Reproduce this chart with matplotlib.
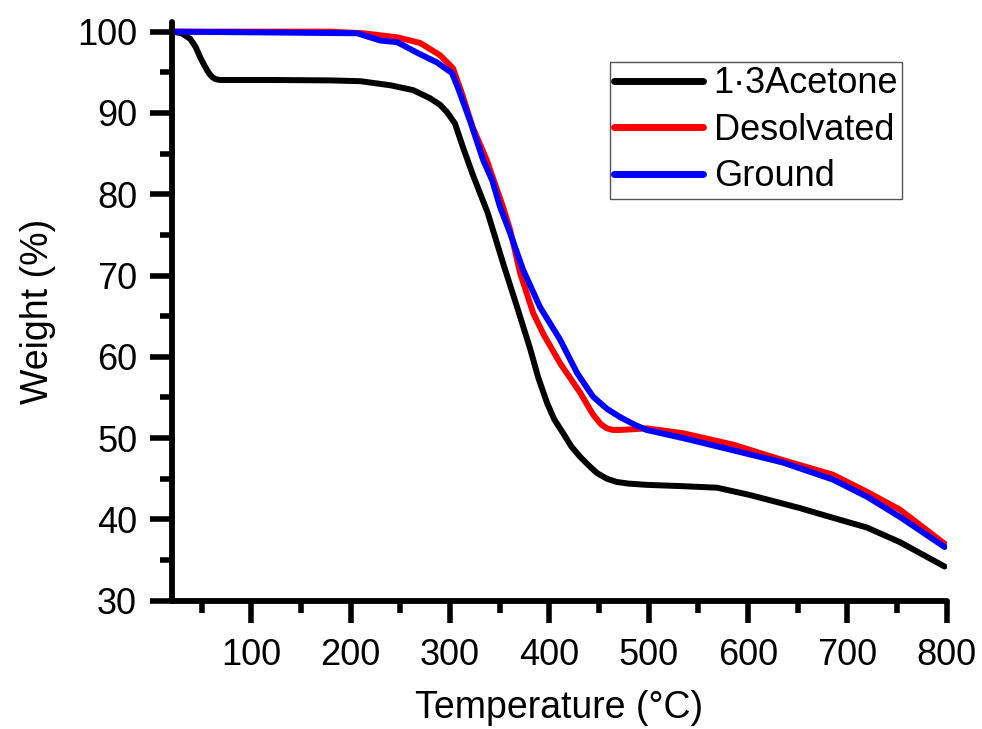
import numpy as np
import matplotlib
matplotlib.use("Agg")
import matplotlib.pyplot as plt

plt.rcParams['font.family'] = ['Liberation Sans', 'DejaVu Sans']

# TGA curves: temperature (C) and weight (%)
t_acetone = [20, 30, 38.6, 44, 48.7, 52.5, 55.7, 58.5, 60.8, 64, 68.8, 75, 120, 180, 210,
             240, 263, 280, 290, 297, 305, 313, 323, 338, 353.5, 367.6, 380.7, 388.7,
             397.8, 405, 413.9, 422, 431, 440, 448, 458, 468, 480, 498, 531.6, 568.8, 602,
             652, 685.5, 719.7, 753, 780, 798]
w_acetone = [100, 99.8, 99.1, 98.1, 96.8, 95.9, 95.2, 94.7, 94.4, 94.15, 94.05, 94.05, 94.05,
             94.0, 93.9, 93.4, 92.8, 91.8, 91.0, 90.1, 88.7, 85.8, 82.4, 77.7, 71.5, 66.1,
             61.0, 57.5, 54.3, 52.3, 50.6, 49.0, 47.7, 46.6, 45.7, 45.0, 44.6, 44.4, 44.25,
             44.1, 43.9, 43.0, 41.4, 40.2, 39.0, 37.2, 35.4, 34.2]

t_desolv = [20, 180, 212.7, 247, 270, 290, 303, 312, 323, 337, 353.5, 360.6, 370.6, 383.7,
            394, 410.9, 431, 444, 452, 458, 464, 471, 485, 498.4, 534.6, 585, 635, 685.5,
            719.7, 753, 798]
w_desolv = [100, 100, 99.8, 99.3, 98.6, 97.1, 95.5, 92.4, 88.2, 84.2, 78.4, 75.6, 70.3,
            65.4, 62.8, 59.2, 55.6, 52.9, 51.7, 51.2, 51.0, 51.0, 51.1, 51.2, 50.6, 49.2,
            47.3, 45.5, 43.4, 41.2, 37.0]

t_ground = [20, 206.6, 229.8, 247, 267, 287, 302, 308, 320, 333.4, 342.5, 350.5, 360.6,
            373.6, 390.7, 410.9, 428, 444, 458, 471, 485, 498, 534.6, 585, 635, 685.5,
            719.7, 753, 798]
w_ground = [100, 99.8, 98.9, 98.7, 97.4, 96.2, 94.9, 93.1, 89.1, 84.2, 81.7, 78.4, 75.2,
            70.7, 66.1, 62.1, 58.0, 55.1, 53.6, 52.6, 51.7, 51.0, 50.0, 48.5, 47.0, 44.9,
            42.8, 40.3, 36.6]

fig = plt.figure(figsize=(9.82, 7.29), dpi=100)
ax = fig.add_axes([0.175, 0.176, 0.789, 0.794])

ax.plot(t_acetone, w_acetone, color='black', lw=4.3, label='1·3Acetone', solid_capstyle='round')
ax.plot(t_desolv, w_desolv, color='red', lw=4.3, label='Desolvated', solid_capstyle='round')
ax.plot(t_ground, w_ground, color='blue', lw=4.3, label='Ground', solid_capstyle='round')

ax.set_xlim(20, 800)
ax.set_ylim(30, 101.2)
ax.set_xticks([100, 200, 300, 400, 500, 600, 700, 800])
ax.set_xticks([50, 150, 250, 350, 450, 550, 650, 750], minor=True)
ax.set_yticks([30, 40, 50, 60, 70, 80, 90, 100])
ax.set_yticks([35, 45, 55, 65, 75, 85, 95], minor=True)

for s in ['top', 'right']:
    ax.spines[s].set_visible(False)
for s in ['left', 'bottom']:
    ax.spines[s].set_linewidth(4.2)
    ax.spines[s].set_capstyle('round')

ax.tick_params(which='major', direction='out', length=16, width=4, labelsize=26, pad=9)
ax.tick_params(which='minor', direction='out', length=8.6, width=4)
ax.tick_params(axis='x', which='major', pad=11)

ax.set_xlabel('Temperature (°C)', fontsize=27, labelpad=12)
ax.set_ylabel('Weight (%)', fontsize=27, labelpad=15)

leg = ax.legend(loc='upper right', bbox_to_anchor=(0.943, 0.931), borderaxespad=0,
                fontsize=26, handlelength=2.45, handletextpad=0.3, labelspacing=0.32,
                borderpad=0.12, fancybox=False, edgecolor='#555555', framealpha=1)
leg.get_frame().set_linewidth(1)
for h in leg.get_lines():
    h.set_linewidth(5)

fig.savefig('out.png', dpi=100)
